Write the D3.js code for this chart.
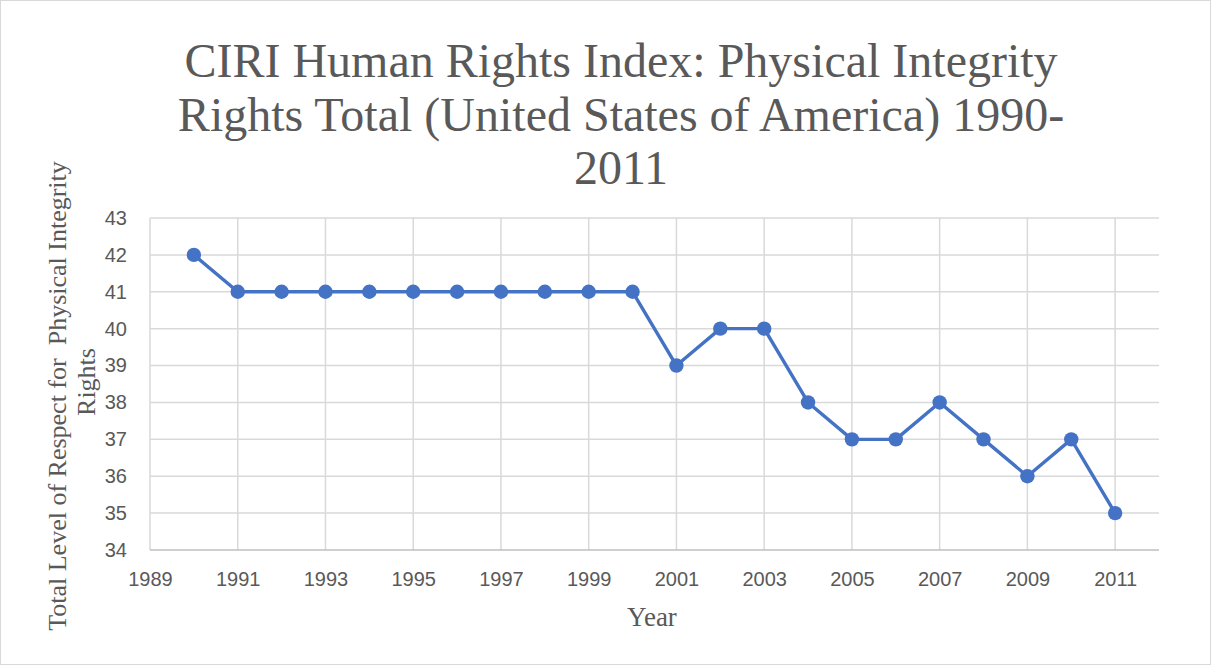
<!DOCTYPE html>
<html>
<head>
<meta charset="utf-8">
<script src="https://cdn.jsdelivr.net/npm/d3@7"></script>
<style>
  body { margin: 0; background: #fff; }
  svg { display: block; }
</style>
</head>
<body>
<div id="chart"></div>
<script>
const years = [1990, 1991, 1992, 1993, 1994, 1995, 1996, 1997, 1998, 1999, 2000,
               2001, 2002, 2003, 2004, 2005, 2006, 2007, 2008, 2009, 2010, 2011];
const scores = [42, 41, 41, 41, 41, 41, 41, 41, 41, 41, 41,
                39, 40, 40, 38, 37, 37, 38, 37, 36, 37, 35];
const xTicks = [1989, 1991, 1993, 1995, 1997, 1999, 2001, 2003, 2005, 2007, 2009, 2011];
const yTicks = [34, 35, 36, 37, 38, 39, 40, 41, 42, 43];
const titleLines = ["CIRI Human Rights Index: Physical Integrity",
                    "Rights Total (United States of America) 1990-",
                    "2011"];
const yLabelLines = ["Total Level of Respect for  Physical Integrity", "Rights"];

const width = 1211, height = 665;
const margin = { left: 150, right: 52, top: 218, bottom: 115 };
const serif = "'Liberation Serif', 'Times New Roman', serif";

const svg = d3.select("#chart").append("svg")
    .attr("width", width)
    .attr("height", height);

// outer frame
svg.append("rect")
    .attr("x", 0.5).attr("y", 0.5)
    .attr("width", width - 1).attr("height", height - 1)
    .attr("fill", "#fff")
    .attr("stroke", "#d9d9d9");

const x = d3.scaleLinear()
    .domain([1989, 2012])
    .range([margin.left, width - margin.right]);

const y = d3.scaleLinear()
    .domain([34, 43])
    .range([height - margin.bottom, margin.top]);

// gridlines
svg.append("g")
    .selectAll("line")
    .data(yTicks.slice(1))
    .join("line")
    .attr("x1", x(1989)).attr("x2", x(2012))
    .attr("y1", d => y(d)).attr("y2", d => y(d))
    .attr("stroke", "#d9d9d9")
    .attr("stroke-width", 1.5);

svg.append("g")
    .selectAll("line")
    .data(xTicks)
    .join("line")
    .attr("x1", d => x(d)).attr("x2", d => x(d))
    .attr("y1", y(43)).attr("y2", y(34))
    .attr("stroke", "#d9d9d9")
    .attr("stroke-width", 1.5);

// baseline
svg.append("line")
    .attr("x1", x(1989)).attr("x2", x(2012))
    .attr("y1", y(34)).attr("y2", y(34))
    .attr("stroke", "#bfbfbf")
    .attr("stroke-width", 1.5);

// axes (labels only)
const xAxis = svg.append("g")
    .attr("transform", `translate(0,${y(34)})`)
    .call(d3.axisBottom(x).tickValues(xTicks).tickFormat(d3.format("d")).tickSize(0).tickPadding(22));

const yAxis = svg.append("g")
    .attr("transform", `translate(${x(1989)},0)`)
    .call(d3.axisLeft(y).tickValues(yTicks).tickFormat(d3.format("d")).tickSize(0).tickPadding(23));

[xAxis, yAxis].forEach(g => {
    g.select(".domain").remove();
    g.selectAll("text")
        .attr("fill", "#595959")
        .style("font-family", "'Liberation Sans', 'Open Sans', sans-serif")
        .style("font-size", "20px");
});

// line + markers
const line = d3.line()
    .x((d, i) => x(years[i]))
    .y(d => y(d));

svg.append("path")
    .datum(scores)
    .attr("d", line)
    .attr("fill", "none")
    .attr("stroke", "#4472c4")
    .attr("stroke-width", 3.4)
    .attr("stroke-linejoin", "round");

svg.append("g")
    .selectAll("circle")
    .data(scores)
    .join("circle")
    .attr("cx", (d, i) => x(years[i]))
    .attr("cy", d => y(d))
    .attr("r", 7.2)
    .attr("fill", "#4472c4");

// title
svg.append("text")
    .attr("text-anchor", "middle")
    .attr("fill", "#595959")
    .style("font-family", serif)
    .style("font-size", "48px")
    .selectAll("tspan")
    .data(titleLines)
    .join("tspan")
    .attr("x", 621)
    .attr("y", (d, i) => 77 + i * 53.5)
    .text(d => d);

// y axis title
svg.append("text")
    .attr("transform", "translate(0,396) rotate(-90)")
    .attr("text-anchor", "middle")
    .attr("fill", "#595959")
    .attr("xml:space", "preserve")
    .style("white-space", "pre")
    .style("font-family", serif)
    .style("font-size", "26px")
    .selectAll("tspan")
    .data(yLabelLines)
    .join("tspan")
    .attr("x", (d, i) => i === 0 ? 0 : 14)
    .attr("y", (d, i) => 66 + i * 29)
    .text(d => d);

// x axis title
svg.append("text")
    .attr("x", 652)
    .attr("y", 626)
    .attr("text-anchor", "middle")
    .attr("fill", "#595959")
    .style("font-family", serif)
    .style("font-size", "27px")
    .text("Year");
</script>
</body>
</html>
